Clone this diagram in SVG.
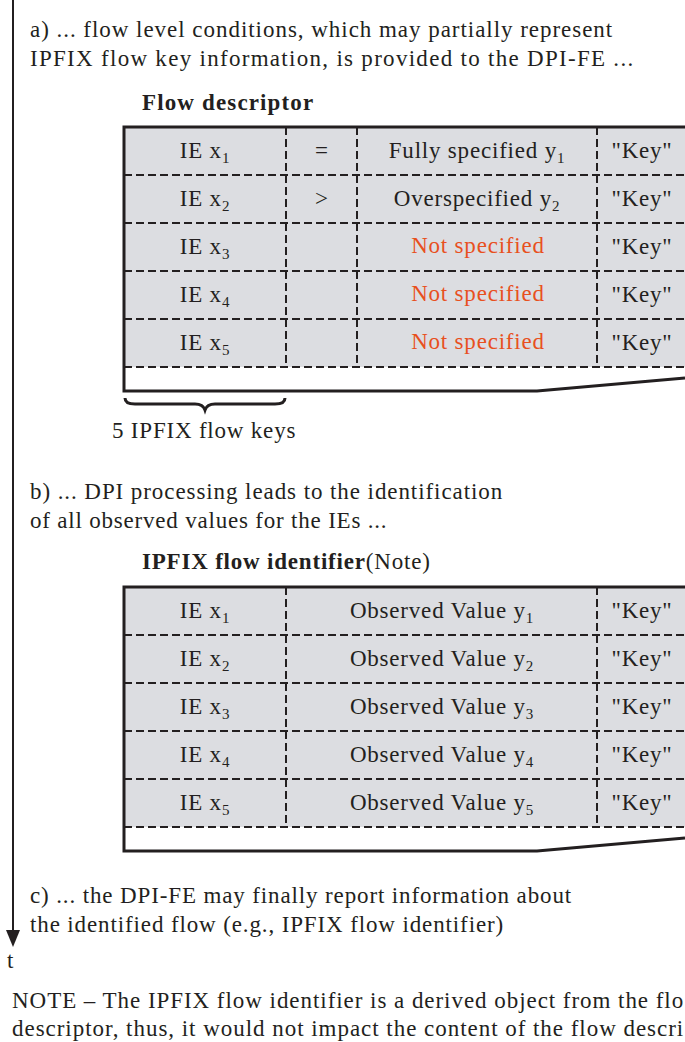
<svg xmlns="http://www.w3.org/2000/svg" width="685" height="1042" viewBox="0 0 685 1042">
<style>
text{font-family:"Liberation Serif","Times New Roman",serif;font-size:23px;fill:#231f20;letter-spacing:0.8px}
.b{font-weight:bold}
.c{text-anchor:middle}
.r{fill:#e8501e}
.sub{font-size:15px}
.cell{fill:#dcdde1;stroke:none}
.dash{stroke:#231f20;stroke-width:2;stroke-dasharray:8,4;fill:none}
.frame{stroke:#231f20;stroke-width:3;fill:none}
</style>
<rect width="685" height="1042" fill="#fff"/>
<g id="connectors">
<line x1="13" y1="0" x2="13" y2="934" stroke="#231f20" stroke-width="2"/>
<polygon points="6,930 20,930 13,947" fill="#231f20"/>
</g>
<g id="axis-label"><text x="7" y="968">t</text></g>
<g id="text-a">
<text x="30" y="37" textLength="583">a) ... flow level conditions, which may partially represent</text>
<text x="30" y="66" textLength="604">IPFIX flow key information, is provided to the DPI-FE ...</text>
</g>
<g id="flow-descriptor">
<text x="142" y="110" class="b" textLength="172">Flow descriptor</text>
<rect class="cell" x="124" y="127" width="561" height="240"/>
<path class="dash" d="M124,175H685M124,223H685M124,271H685M124,319H685M124,367H685M286,127V367M357,127V367M597,127V367"/>
<path class="frame" d="M685,127H124V391H537L685,378"/>
<text class="c" x="205" y="158">IE x<tspan class="sub" dy="5">1</tspan></text>
<text class="c" x="322" y="158">=</text>
<text class="c" x="477" y="158">Fully specified y<tspan class="sub" dy="5">1</tspan></text>
<text class="c" x="642" y="158">"Key"</text>
<text class="c" x="205" y="206">IE x<tspan class="sub" dy="5">2</tspan></text>
<text class="c" x="322" y="206">&gt;</text>
<text class="c" x="477" y="206">Overspecified y<tspan class="sub" dy="5">2</tspan></text>
<text class="c" x="642" y="206">"Key"</text>
<text class="c" x="205" y="254">IE x<tspan class="sub" dy="5">3</tspan></text>
<text class="c r" x="478" y="253">Not specified</text>
<text class="c" x="642" y="254">"Key"</text>
<text class="c" x="205" y="302">IE x<tspan class="sub" dy="5">4</tspan></text>
<text class="c r" x="478" y="301">Not specified</text>
<text class="c" x="642" y="302">"Key"</text>
<text class="c" x="205" y="350">IE x<tspan class="sub" dy="5">5</tspan></text>
<text class="c r" x="478" y="349">Not specified</text>
<text class="c" x="642" y="350">"Key"</text>
</g>
<g id="flow-keys-brace">
<path class="frame" d="M125,398Q125,404 135,404H195Q203,404 205,410Q207,404 215,404H275Q285,404 285,398"/>
<text x="112" y="438">5 IPFIX flow keys</text>
</g>
<g id="text-b">
<text x="30" y="499" textLength="473">b) ... DPI processing leads to the identification</text>
<text x="30" y="528">of all observed values for the IEs ...</text>
</g>
<g id="flow-identifier">
<text x="142" y="569"><tspan class="b">IPFIX flow identifier</tspan>(Note)</text>
<rect class="cell" x="124" y="587" width="561" height="240"/>
<path class="dash" d="M124,635H685M124,683H685M124,731H685M124,779H685M124,827H685M286,587V827M597,587V827"/>
<path class="frame" d="M685,587H124V851H537L685,838"/>
<text class="c" x="205" y="618">IE x<tspan class="sub" dy="5">1</tspan></text>
<text class="c" x="442" y="618">Observed Value y<tspan class="sub" dy="5">1</tspan></text>
<text class="c" x="642" y="618">"Key"</text>
<text class="c" x="205" y="666">IE x<tspan class="sub" dy="5">2</tspan></text>
<text class="c" x="442" y="666">Observed Value y<tspan class="sub" dy="5">2</tspan></text>
<text class="c" x="642" y="666">"Key"</text>
<text class="c" x="205" y="714">IE x<tspan class="sub" dy="5">3</tspan></text>
<text class="c" x="442" y="714">Observed Value y<tspan class="sub" dy="5">3</tspan></text>
<text class="c" x="642" y="714">"Key"</text>
<text class="c" x="205" y="762">IE x<tspan class="sub" dy="5">4</tspan></text>
<text class="c" x="442" y="762">Observed Value y<tspan class="sub" dy="5">4</tspan></text>
<text class="c" x="642" y="762">"Key"</text>
<text class="c" x="205" y="810">IE x<tspan class="sub" dy="5">5</tspan></text>
<text class="c" x="442" y="810">Observed Value y<tspan class="sub" dy="5">5</tspan></text>
<text class="c" x="642" y="810">"Key"</text>
</g>
<g id="text-c">
<text x="30" y="903" textLength="542">c) ... the DPI-FE may finally report information about</text>
<text x="30" y="932" textLength="474">the identified flow (e.g., IPFIX flow identifier)</text>
</g>
<g id="note">
<text x="12" y="1008" textLength="672">NOTE – The IPFIX flow identifier is a derived object from the flo</text>
<text x="12" y="1036" textLength="672">descriptor, thus, it would not impact the content of the flow descri</text>
</g>
</svg>
